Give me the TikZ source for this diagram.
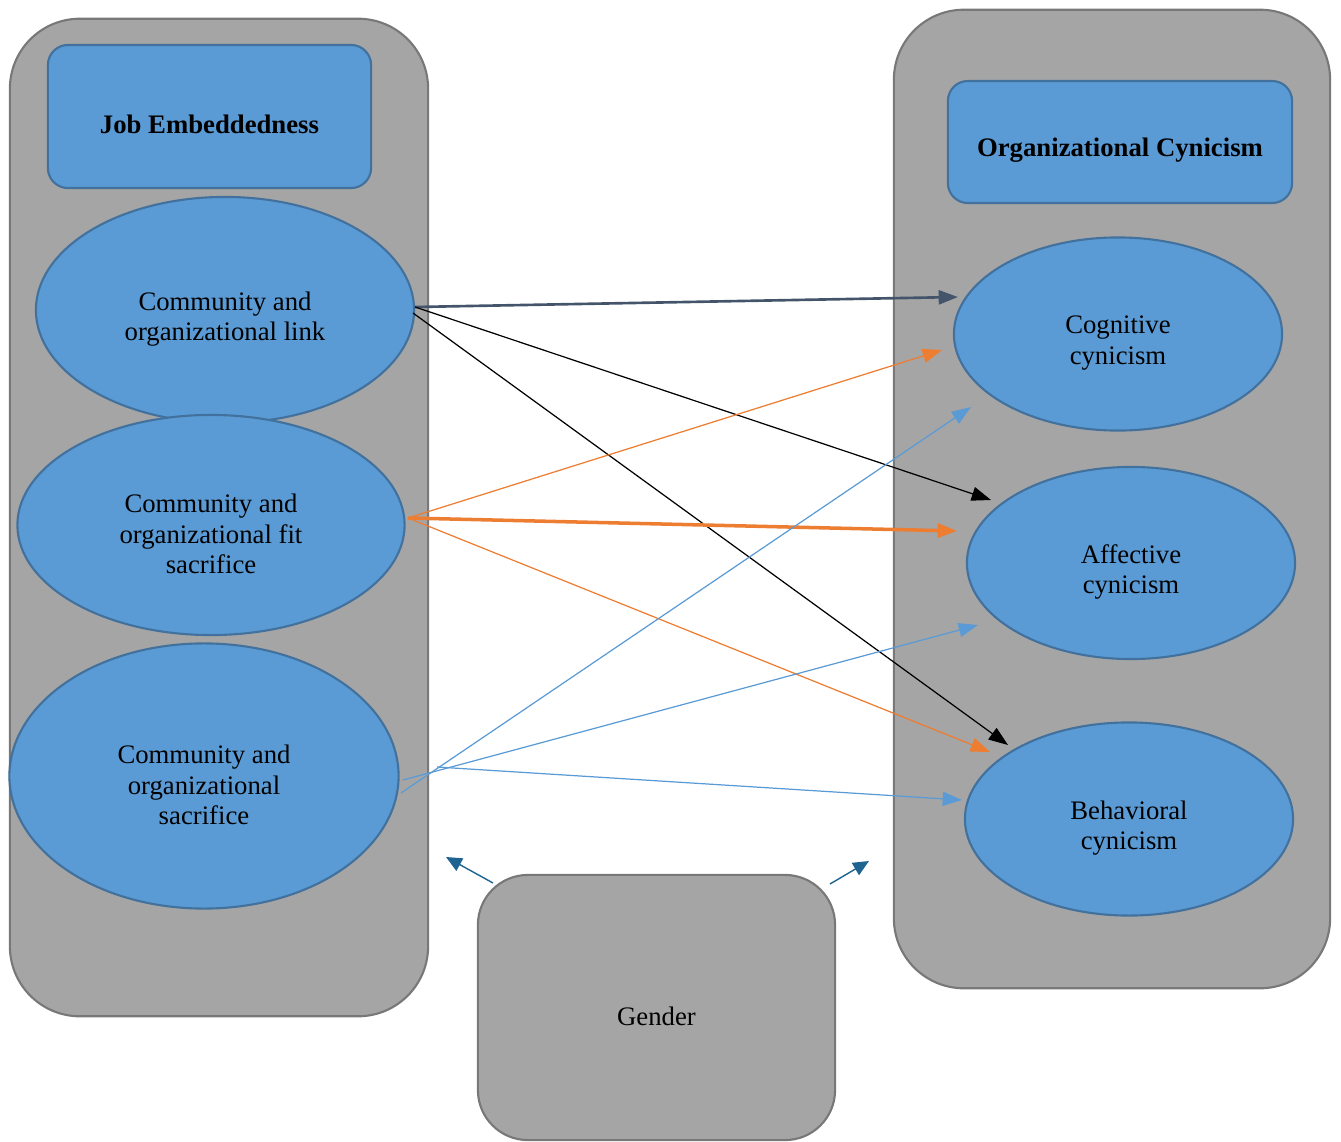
\documentclass[tikz,border=0pt]{standalone}
\usepackage{fontspec}
\setmainfont{Liberation Serif}
\usetikzlibrary{positioning,shapes.geometric,arrows.meta}
\definecolor{boxgray}{HTML}{A5A5A5}
\definecolor{boxedge}{HTML}{787878}
\definecolor{dimblue}{HTML}{5B9BD5}
\definecolor{dimedge}{HTML}{41719C}
\definecolor{slate}{HTML}{44546A}
\definecolor{linkorange}{HTML}{ED7D31}
\definecolor{gendteal}{HTML}{1F6391}

\tikzset{
  panel/.style={draw=boxedge, fill=boxgray, line width=0.6pt, rounded corners=0.7cm, inner sep=0pt},
  titlebox/.style={draw=dimedge, fill=dimblue, line width=0.6pt, rounded corners=0.2cm},
  titletext/.style={font=\bfseries\fontsize{7.6}{9}\selectfont, yshift=-0.08cm},
  dim/.style={ellipse, draw=dimedge, fill=dimblue, line width=0.6pt, inner sep=0pt},
  dimtext/.style={align=center, font=\fontsize{7.6}{8.7}\selectfont, yshift=-0.09cm},
  arr/.style={-{Triangle[length=5.5pt,width=4pt]}, line width=0.35pt},
  garr/.style={-{Triangle[length=4.5pt,width=4pt]}, line width=0.4pt, draw=gendteal},
}

\begin{document}
\begin{tikzpicture}[x=0.01cm,y=-0.01cm]
\useasboundingbox (0,0) rectangle (1341,1142);

% containers
\node[panel, minimum width=4.18cm, minimum height=9.97cm] (jeb) at (219,517.5) {};
\node[panel, minimum width=4.36cm, minimum height=9.78cm] (ocy) at (1112,499) {};
\node[panel, minimum width=3.57cm, minimum height=2.65cm, rounded corners=0.5cm,
  label={[dimtext]center:Gender}] (gen) at (656.5,1007.5) {};

% headings
\node[titlebox, minimum width=3.23cm, minimum height=1.43cm,
  label={[titletext]center:Job Embeddedness}] (jetitle) at (209.5,116.5) {};
\node[titlebox, minimum width=3.44cm, minimum height=1.22cm,
  label={[titletext]center:Organizational Cynicism}] (octitle) at (1120,142) {};

% job embeddedness dimensions
\node[dim, minimum width=3.78cm, minimum height=2.26cm,
  label={[dimtext]center:Community and\\organizational link}] (link) at (225,310) {};
\node[dim, minimum width=3.87cm, minimum height=2.2cm,
  label={[dimtext]center:Community and\\organizational fit\\sacrifice}] (fit) at (211,525) {};
\node[dim, minimum width=3.89cm, minimum height=2.65cm,
  label={[dimtext]center:Community and\\organizational\\sacrifice}] (sacr) at (204,776) {};

% cynicism dimensions
\node[dim, minimum width=3.28cm, minimum height=1.93cm,
  label={[dimtext]center:Cognitive\\cynicism}] (cog) at (1118,334) {};
\node[dim, minimum width=3.28cm, minimum height=1.92cm,
  label={[dimtext]center:Affective\\cynicism}] (aff) at (1131,563) {};
\node[dim, minimum width=3.28cm, minimum height=1.93cm,
  label={[dimtext]center:Behavioral\\cynicism}] (beh) at (1129,819) {};

% arrow ends
\coordinate (l1) at (415,307);
\coordinate (l2) at (413,313);
\coordinate (f0) at (408,518);
\coordinate (s1) at (401,793);
\coordinate (s2) at (403,780);
\coordinate (s3) at (437,767);
\coordinate (cogA) at (958,297);
\coordinate (cogB) at (942,350);
\coordinate (cogC) at (971,407);
\coordinate (affA) at (991,500);
\coordinate (affB) at (957,531);
\coordinate (affC) at (978,625);
\coordinate (behA) at (1008,745);
\coordinate (behB) at (990,752);
\coordinate (behC) at (962,800);
\coordinate (g1) at (493,883);
\coordinate (g1e) at (446,857);
\coordinate (g2) at (830,884);
\coordinate (g2e) at (869,861);

% paths from link
\draw[arr, draw=slate, line width=0.75pt] (l1) -- (cogA);
\draw[arr] (l1) -- (affA);
\draw[arr] (l2) -- (behA);

% paths from fit sacrifice
\draw[arr, draw=linkorange] (f0) -- (cogB);
\draw[arr, draw=linkorange, line width=1pt] (f0) -- (affB);
\draw[arr, draw=linkorange] (f0) -- (behB);

% paths from sacrifice
\draw[arr, draw=dimblue] (s1) -- (cogC);
\draw[arr, draw=dimblue] (s2) -- (affC);
\draw[arr, draw=dimblue] (s3) -- (behC);

% gender
\draw[garr] (g1) -- (g1e);
\draw[garr] (g2) -- (g2e);
\end{tikzpicture}
\end{document}
